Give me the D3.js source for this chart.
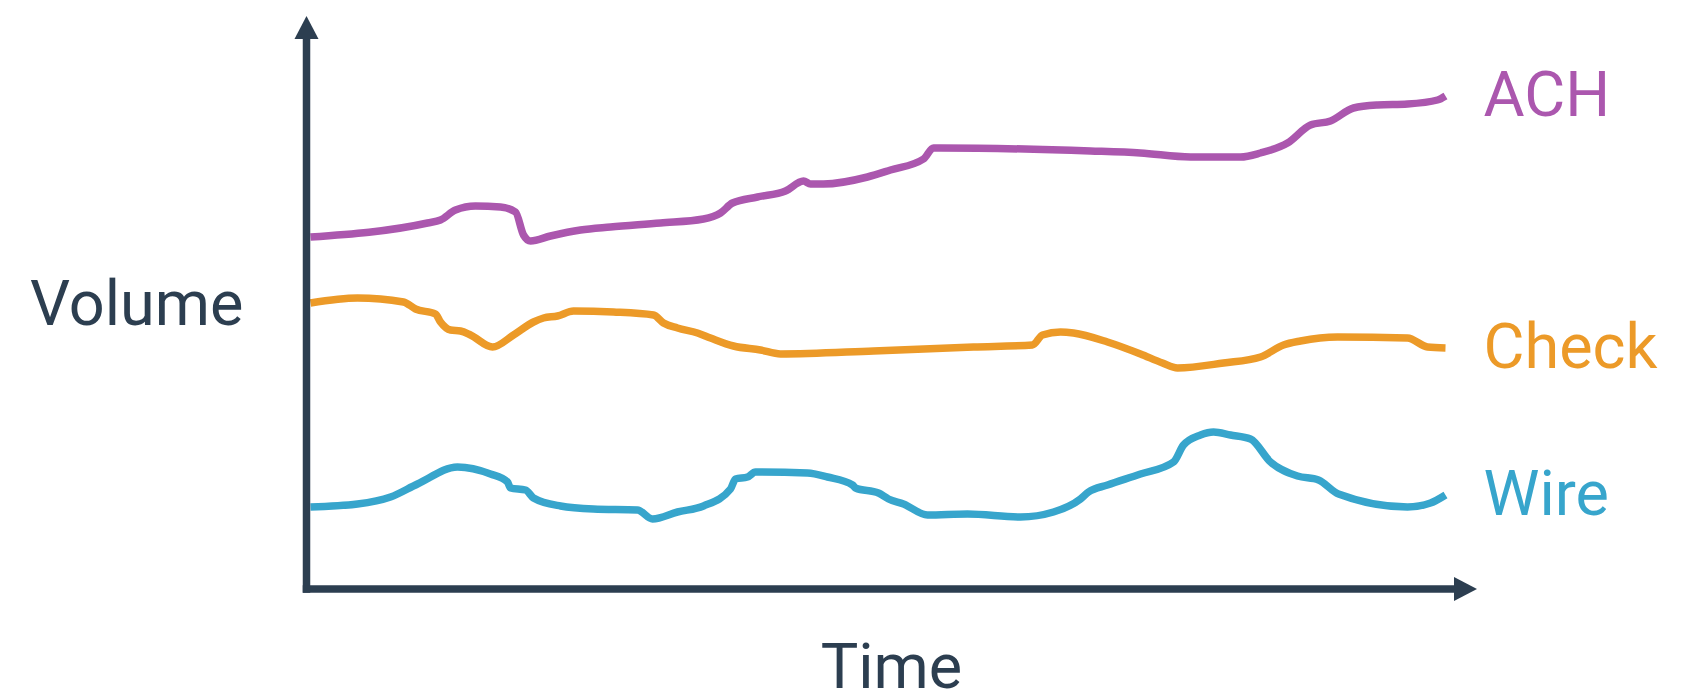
<!DOCTYPE html>
<html>
<head>
<meta charset="utf-8">
<script src="https://cdn.jsdelivr.net/npm/d3@7"></script>
<style>
  body { margin: 0; background: #fff; }
  text { font-family: Roboto, "Open Sans", sans-serif; }
</style>
</head>
<body>
<svg id="chart" width="1690" height="693"></svg>
<script>
// series values: [time, volume] in arbitrary units
const achPoints = [[4,352],[121,366],[134,369],[149,379],[169,383],[194,382],[209,377],[217,354],[224,348],[244,353],[274,359],[304,362],[354,366],[397,370],[414,376],[426,386],[451,392],[479,398],[497,408],[504,405],[517,405],[561,412],[584,419],[617,430],[627,441],[634,441],[784,438],[834,436],[884,432],[934,432],[954,436],[981,446],[1004,464],[1024,468],[1047,481],[1071,484],[1101,485],[1131,489],[1139,493]];

const checkPoints = [[4,286],[51,291],[97,287],[109,280],[129,275],[134,267],[144,259],[154,258],[164,254],[186,242],[207,254],[227,267],[237,271],[251,273],[267,278],[307,277],[347,274],[357,266],[371,261],[391,256],[404,251],[427,243],[454,239],[474,235],[567,238],[667,242],[726,244],[736,254],[754,257],[767,256],[801,247],[834,235],[856,226],[871,221],[917,226],[954,232],[977,244],[994,248],[1031,252],[1101,251],[1121,242],[1139,241]];

const wirePoints = [[4,82],[51,85],[84,92],[111,105],[151,122],[184,115],[201,107],[204,101],[219,99],[227,91],[254,83],[287,80],[331,79],[346,70],[371,77],[397,83],[424,100],[429,110],[441,112],[449,117],[501,116],[521,112],[546,104],[549,101],[572,96],[582,90],[597,85],[621,74],[661,75],[714,72],[747,77],[774,90],[782,97],[801,104],[834,115],[867,127],[877,144],[894,154],[907,157],[924,154],[944,150],[964,127],[991,113],[1012,109],[1032,95],[1101,82],[1124,86],[1139,94]];

const seriesNames = ["ACH", "Check", "Wire"];
const seriesColors = ["#ab57ae", "#ec9a28", "#37a5cc"];
const xLabel = "Time";
const yLabel = "Volume";

const series = [achPoints, checkPoints, wirePoints].map(function(pts, i) {
    return {name: seriesNames[i], color: seriesColors[i], values: pts};
});

const svg = d3.select("#chart");
const axisColor = "#2c3e50";

var x = d3.scaleLinear().domain([0, 1140]).range([306.5, 1446.5]);
var y = d3.scaleLinear().domain([0, 550]).range([589, 39]);

var line = d3.line()
    .x(function(d) { return x(d[0]); })
    .y(function(d) { return y(d[1]); })
    .curve(d3.curveMonotoneX);

svg.selectAll(".series").data(series).enter().append("path")
    .attr("class", "series")
    .attr("d", function(d) { return line(d.values); })
    .attr("fill", "none")
    .attr("stroke", function(d) { return d.color; })
    .attr("stroke-width", 7.5)
    .attr("stroke-linejoin", "round")
    .attr("stroke-linecap", "butt");

// end labels
svg.selectAll(".label").data(series).enter().append("text")
    .attr("class", "label")
    .attr("x", function(d) { return x(d.values[d.values.length - 1][0]) + 38; })
    .attr("y", function(d) { return y(d.values[d.values.length - 1][1]) + 20; })
    .attr("fill", function(d) { return d.color; })
    .style("font-size", "63px")
    .text(function(d) { return d.name; });

// axes with arrow heads
var x0 = x(0), y0 = y(0), yTop = y(550), xEnd = 1454;
svg.append("line").attr("x1", x0).attr("x2", x0).attr("y1", y0 + 3.75).attr("y2", yTop)
    .attr("stroke", axisColor).attr("stroke-width", 7.5);
svg.append("line").attr("x1", x0 - 3.75).attr("x2", xEnd).attr("y1", y0).attr("y2", y0)
    .attr("stroke", axisColor).attr("stroke-width", 7.5);
svg.append("path")
    .attr("d", "M" + (x0 - 12) + "," + yTop + "L" + x0 + "," + (yTop - 23) + "L" + (x0 + 12) + "," + yTop + "Z")
    .attr("fill", axisColor);
svg.append("path")
    .attr("d", "M" + xEnd + "," + (y0 - 12) + "L" + (xEnd + 23) + "," + y0 + "L" + xEnd + "," + (y0 + 12) + "Z")
    .attr("fill", axisColor);

svg.append("text").attr("x", 30).attr("y", 325).attr("fill", axisColor)
    .style("font-size", "63px").text(yLabel);
svg.append("text").attr("x", 891.5).attr("y", 688).attr("text-anchor", "middle").attr("fill", axisColor)
    .style("font-size", "63px").text(xLabel);
</script>
</body>
</html>
